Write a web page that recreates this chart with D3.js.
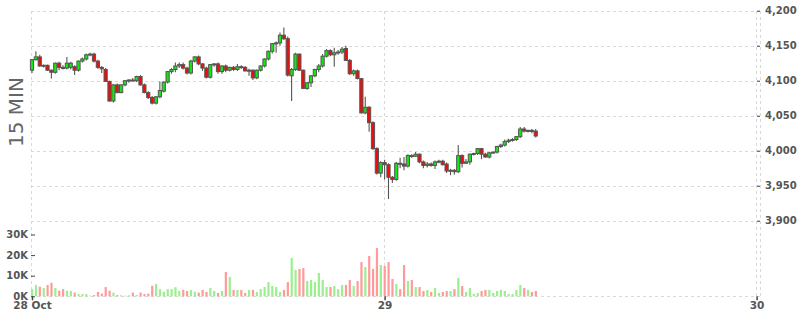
<!DOCTYPE html>
<meta charset="utf-8">
<script src="https://d3js.org/d3.v7.min.js"></script>
<style>
  body { margin: 0; background: #fff; }
  text { font-family: "DejaVu Sans", sans-serif; }
</style>
<div id="chart"></div>
<script>

// 15 minute bars, first bar 28 Oct 01:15
var openP  = [4115,4130,4134,4121,4122,4115,4112,4125,4119,4118,4119,4120,4115,4128,4131,4137,4138,4128,4119,4116,
              4099,4071,4094,4083,4094,4100,4101,4100,4106,4094,4083,4076,4068,4077,4085,4098,4113,4116,4121,4123,
              4118,4111,4128,4134,4124,4118,4105,4123,4124,4113,4121,4115,4119,4116,4120,4119,4114,4115,4104,4115,
              4121,4131,4142,4153,4154,4165,4160,4107,4116,4138,4115,4089,4097,4107,4116,4121,4135,4143,4137,4140,
              4141,4146,4129,4110,4114,4103,4054,4062,4040,4003,3968,3983,3980,3962,3959,3982,3981,3978,3993,3992,
              3995,3984,3979,3981,3979,3984,3985,3981,3971,3972,3970,3993,3982,3984,3995,3996,4003,3995,3991,3997,
              3998,4006,4008,4013,4015,4016,4020,4031,4028,4029,4028];
var highP  = [4131,4142,4137,4123,4123,4116,4126,4127,4122,4134,4127,4122,4129,4133,4139,4140,4140,4130,4121,4118,
              4100,4095,4096,4095,4101,4102,4104,4107,4108,4096,4085,4078,4078,4099,4099,4114,4118,4126,4126,4126,
              4120,4130,4135,4136,4125,4120,4124,4125,4126,4122,4123,4120,4121,4124,4122,4121,4117,4116,4116,4122,
              4132,4143,4154,4156,4169,4176,4163,4118,4140,4139,4116,4098,4108,4117,4124,4138,4145,4145,4147,4144,
              4148,4150,4131,4116,4116,4104,4077,4064,4042,4005,3985,3987,3982,3964,3984,3990,3991,3995,3995,3998,
              3996,3986,3984,3983,3986,3987,3987,3983,3974,3974,4008,3995,3988,3996,3997,4004,4004,3997,3998,3999,
              4007,4010,4016,4017,4018,4021,4034,4034,4030,4031,4031];
var lowP   = [4111,4129,4120,4119,4114,4103,4110,4115,4116,4116,4116,4108,4113,4126,4129,4135,4126,4117,4111,4098,
              4070,4069,4082,4082,4092,4097,4099,4098,4093,4082,4074,4066,4066,4075,4083,4096,4110,4112,4118,4116,
              4109,4109,4126,4122,4114,4103,4103,4120,4110,4110,4112,4113,4114,4114,4117,4113,4107,4101,4102,4113,
              4119,4129,4139,4140,4150,4158,4106,4071,4114,4114,4088,4087,4091,4105,4112,4119,4133,4135,4120,4137,
              4138,4128,4108,4107,4102,4053,4052,4027,4001,3966,3962,3959,3931,3954,3957,3975,3972,3976,3990,3991,
              3982,3975,3976,3977,3974,3982,3979,3968,3965,3966,3968,3976,3981,3980,3993,3994,3988,3990,3989,3996,
              3996,4004,4006,4011,4013,4014,4018,4026,4026,4025,4019];
var closeP = [4130,4134,4121,4122,4115,4112,4125,4119,4118,4125,4125,4115,4128,4131,4137,4138,4128,4119,4117,4099,
              4071,4094,4083,4094,4100,4101,4100,4106,4094,4083,4076,4068,4077,4086,4098,4113,4116,4121,4123,4118,
              4111,4128,4134,4124,4118,4105,4123,4124,4113,4121,4115,4119,4116,4120,4119,4114,4115,4104,4115,4121,
              4131,4142,4153,4154,4165,4160,4108,4116,4138,4115,4089,4097,4107,4116,4121,4135,4143,4137,4140,4141,
              4145,4129,4110,4114,4103,4054,4062,4040,4003,3968,3983,3980,3962,3959,3982,3981,3978,3993,3992,3995,
              3984,3979,3981,3979,3984,3985,3980,3971,3972,3970,3993,3982,3984,3995,3996,4003,3995,3991,3997,3998,
              4006,4008,4013,4015,4016,4020,4031,4028,4029,4028,4021];
// volume in thousands
var volK   = [3.5,5.5,4.7,4.0,5.5,6.6,4.0,2.7,3.5,2.7,2.6,1.8,1.1,1.1,1.1,0.3,0.6,2.1,1.3,4.5,
              2.7,1.8,0.6,0.5,0.3,0.5,1.8,0.6,1.8,1.1,1.3,5.1,6.0,3.5,2.2,3.5,3.5,4.4,2.7,3.1,
              2.6,3.1,2.2,1.8,3.1,2.1,4.0,2.6,1.6,2.6,11.8,9.4,3.1,3.1,3.1,1.6,3.1,3.1,2.1,3.5,
              4.5,6.9,5.0,4.5,2.1,3.1,6.9,18.6,12.8,13.3,13.7,7.4,7.9,6.9,11.3,7.9,4.5,4.5,5.0,3.5,
              5.5,5.5,7.9,5.0,7.4,16.6,14.2,19.6,13.3,23.4,15.2,14.7,16.6,8.4,6.0,3.5,15.2,7.4,7.9,4.5,
              4.5,2.6,3.1,2.1,4.0,1.6,2.1,2.6,2.6,3.5,8.9,5.0,2.1,4.0,1.1,1.6,2.6,3.1,3.1,1.6,
              2.6,3.1,2.6,1.1,1.1,3.1,5.5,4.0,3.1,2.1,2.6];

var priceTicks = [3900, 3950, 4000, 4050, 4100, 4150, 4200];
var volTicks = [0, 10, 20, 30];
var dayLabels = ["28 Oct", "29", "30"];
var firstBar = new Date(2021, 9, 28, 1, 15);
var dayTimes = [firstBar, new Date(2021, 9, 29), new Date(2021, 9, 30)];

var width = 800, height = 315;
var left = 32, right = 756.6, axisX = 760;
var priceTop = 10.7, priceBottom = 220.7;
var volTop = 234.5, volBottom = 296.3;

var bars = openP.map(function(o, i) {
  return { t: d3.timeMinute.offset(firstBar, 15 * i), o: o, h: highP[i], l: lowP[i], c: closeP[i], v: volK[i] };
});

var x = d3.scaleTime().domain([firstBar, dayTimes[2]]).range([left, right]);
var y = d3.scaleLinear().domain([3900, 4200]).range([priceBottom, priceTop]);
var yv = d3.scaleLinear().domain([0, 30]).range([volBottom, volTop]);

var svg = d3.select("#chart").append("svg")
  .attr("width", width)
  .attr("height", height);

svg.append("rect").attr("width", width).attr("height", height).attr("fill", "#fff");

// grid
var grid = svg.append("g")
  .attr("stroke", "#d9d9d9")
  .attr("stroke-dasharray", "3,3")
  .attr("shape-rendering", "crispEdges");

grid.selectAll(".hg")
  .data(priceTicks)
  .enter().append("line")
    .attr("x1", 31).attr("x2", axisX)
    .attr("y1", function(d) { return Math.round(y(d)) + 0.5; })
    .attr("y2", function(d) { return Math.round(y(d)) + 0.5; });

grid.append("line")
  .attr("x1", 31).attr("x2", axisX)
  .attr("y1", Math.round(volBottom) + 0.5).attr("y2", Math.round(volBottom) + 0.5);

grid.selectAll(".vg")
  .data(dayTimes)
  .enter().append("line")
    .attr("x1", function(d) { return Math.round(x(d)) - 0.5; })
    .attr("x2", function(d) { return Math.round(x(d)) - 0.5; })
    .attr("y1", priceTop).attr("y2", volBottom);

grid.append("line")
  .attr("x1", axisX + 0.5).attr("x2", axisX + 0.5)
  .attr("y1", priceTop).attr("y2", volBottom);

// volume bars
svg.append("g").selectAll("rect")
  .data(bars)
  .enter().append("rect")
    .attr("x", function(d) { return x(d.t) - 1; })
    .attr("width", 2.2)
    .attr("y", function(d) { return yv(d.v); })
    .attr("height", function(d) { return yv(0) - yv(d.v); })
    .attr("fill", function(d) { return d.c >= d.o ? "#9bef8f" : "#ff9a9a"; });

// candles
var candle = svg.append("g").selectAll("g")
  .data(bars)
  .enter().append("g");

candle.append("line")
  .attr("x1", function(d) { return x(d.t); })
  .attr("x2", function(d) { return x(d.t); })
  .attr("y1", function(d) { return y(d.h); })
  .attr("y2", function(d) { return y(d.l); })
  .attr("stroke", "#555")
  .attr("stroke-width", 1.1);

candle.append("rect")
  .attr("x", function(d) { return x(d.t) - 1.6; })
  .attr("width", 3.2)
  .attr("y", function(d) { return y(Math.max(d.o, d.c)); })
  .attr("height", function(d) { return Math.max(1, Math.abs(y(d.o) - y(d.c))); })
  .attr("fill", function(d) { return d.c >= d.o ? "#14e614" : "#f00c0c"; })
  .attr("stroke", "#555")
  .attr("stroke-width", 1);

// price axis on the right
var yAxis = svg.append("g")
  .attr("transform", "translate(757,0)")
  .call(d3.axisRight(y).tickValues(priceTicks).tickSize(3).tickPadding(5).tickFormat(d3.format(",")));
yAxis.select(".domain").remove();
yAxis.selectAll("line").attr("stroke", "#444");
yAxis.selectAll("text")
  .attr("fill", "#555")
  .style("font-family", "DejaVu Sans")
  .style("font-size", "10px")
  .style("font-weight", "bold");

// volume axis on the left
var vAxis = svg.append("g")
  .attr("transform", "translate(35,0)")
  .call(d3.axisLeft(yv).tickValues(volTicks).tickSize(4).tickPadding(3).tickFormat(function(d) { return d + "K"; }));
vAxis.select(".domain").remove();
vAxis.selectAll("line").attr("stroke", "#444");
vAxis.selectAll("text")
  .attr("fill", "#555")
  .style("font-family", "DejaVu Sans")
  .style("font-size", "10px")
  .style("font-weight", "bold");

// time axis
var xAxis = svg.append("g")
  .attr("transform", "translate(0," + volBottom + ")")
  .call(d3.axisBottom(x).tickValues(dayTimes).tickSize(4).tickPadding(1)
    .tickFormat(function(d, i) { return dayLabels[i]; }));
xAxis.select(".domain").remove();
xAxis.selectAll("line").attr("stroke", "#444").attr("stroke-width", 1.5);
xAxis.selectAll("text")
  .attr("fill", "#555")
  .style("font-family", "DejaVu Sans")
  .style("font-size", "10.5px")
  .style("font-weight", "bold");

// interval label
svg.append("text")
  .attr("transform", "translate(23,112) rotate(-90)")
  .attr("text-anchor", "middle")
  .attr("fill", "#666")
  .style("font-size", "20px")
  .text("15 MIN");

</script>
